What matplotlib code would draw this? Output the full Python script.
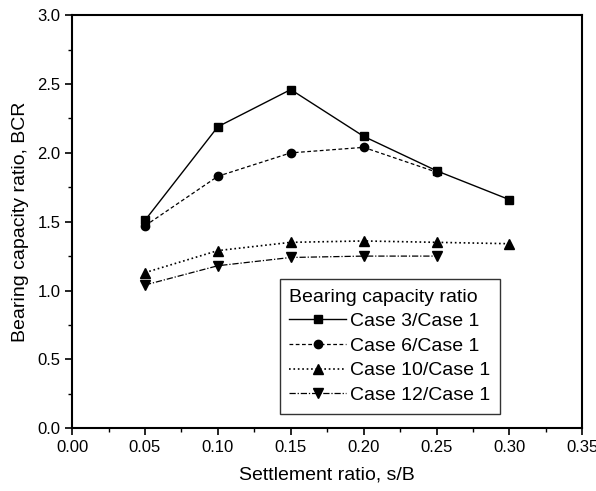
import numpy as np
import matplotlib.pyplot as plt
from matplotlib.ticker import MultipleLocator

plt.rcParams['font.family'] = ['Liberation Sans', 'DejaVu Sans']

# data
s_b = [0.05, 0.10, 0.15, 0.20, 0.25, 0.30]
case3 = [1.51, 2.19, 2.46, 2.12, 1.87, 1.66]
s_b6 = [0.05, 0.10, 0.15, 0.20, 0.25]
case6 = [1.47, 1.83, 2.00, 2.04, 1.86]
case10 = [1.13, 1.29, 1.35, 1.36, 1.35, 1.34]
s_b12 = [0.05, 0.10, 0.15, 0.20, 0.25]
case12 = [1.04, 1.18, 1.24, 1.25, 1.25]

fig = plt.figure(figsize=(5.96, 4.91), dpi=100)
ax = fig.add_axes([0.121, 0.128, 0.856, 0.841])

ax.plot(s_b, case3, 'k-', marker='s', ms=6, lw=1, label="Case 3/Case 1")
ax.plot(s_b6, case6, 'k--', marker='o', ms=6, lw=0.9, dashes=(3, 2), label="Case 6/Case 1")
ax.plot(s_b, case10, 'k:', marker='^', ms=7, lw=1.2, label="Case 10/Case 1")
ax.plot(s_b12, case12, 'k-.', marker='v', ms=7, lw=0.9, dashes=(5, 1.5, 1, 1.5), label="Case 12/Case 1")

ax.set_xlim(0, 0.35)
ax.set_ylim(0, 3.0)
ax.xaxis.set_major_locator(MultipleLocator(0.05))
ax.xaxis.set_minor_locator(MultipleLocator(0.025))
ax.yaxis.set_major_locator(MultipleLocator(0.5))
ax.yaxis.set_minor_locator(MultipleLocator(0.25))
ax.xaxis.set_major_formatter(plt.FormatStrFormatter('%.2f'))
ax.yaxis.set_major_formatter(plt.FormatStrFormatter('%.1f'))
ax.tick_params(which='major', direction='out', length=5, width=1.2, labelsize=12)
ax.tick_params(which='minor', direction='out', length=3, width=1)
for sp in ax.spines.values():
    sp.set_linewidth(1.5)

ax.set_xlabel("Settlement ratio, s/B", fontsize=14, labelpad=8)
ax.set_ylabel("Bearing capacity ratio, BCR", fontsize=14, labelpad=6)

leg = ax.legend(title="Bearing capacity ratio", loc='lower left',
                bbox_to_anchor=(0.407, 0.035), fontsize=14, title_fontsize=14,
                frameon=True, fancybox=False, edgecolor='k', handlelength=2.9,
                handletextpad=0.2, labelspacing=0.36, borderpad=0.5,
                borderaxespad=0)
leg.get_frame().set_linewidth(1)
leg._legend_box.align = "left"

fig.savefig("out.png", dpi=100)
